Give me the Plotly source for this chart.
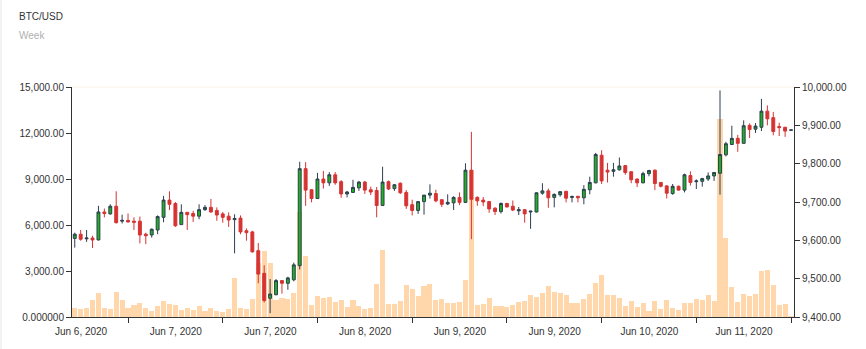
import pandas as pd
import plotly.graph_objects as go

# Hourly BTC/USD candles
times = pd.date_range("2020-06-06 03:00", periods=122, freq="h")

open_ = [
    9605, 9616, 9604, 9606, 9601, 9674, 9669, 9689, 9650, 9652,
    9650, 9650, 9616, 9614, 9627, 9660, 9705, 9696, 9641, 9673,
    9670, 9663, 9680, 9686, 9678, 9669, 9663, 9654, 9658, 9625,
    9622, 9573, 9514, 9449, 9458, 9495, 9488, 9497, 9534, 9787,
    9732, 9709, 9760, 9750, 9771, 9753, 9721, 9725, 9737, 9752,
    9732, 9730, 9691, 9753, 9735, 9749, 9725, 9693, 9678, 9701,
    9718, 9722, 9706, 9695, 9698, 9712, 9699, 9783, 9712, 9705,
    9701, 9684, 9675, 9696, 9689, 9677, 9680, 9674, 9674, 9723,
    9729, 9712, 9719, 9728, 9712, 9715, 9711, 9732, 9750, 9822,
    9783, 9780, 9784, 9795, 9779, 9760, 9750, 9774, 9783, 9751,
    9742, 9722, 9741, 9731, 9769, 9753, 9754, 9760, 9768, 9775,
    9823, 9850, 9866, 9853, 9900, 9890, 9895, 9937, 9920, 9897,
    9895, 9887,
]
high = [
    9620, 9627, 9627, 9612, 9690, 9683, 9694, 9728, 9667, 9670,
    9660, 9662, 9620, 9631, 9665, 9716, 9728, 9700, 9694, 9674,
    9677, 9694, 9692, 9708, 9686, 9674, 9673, 9668, 9665, 9631,
    9625, 9593, 9535, 9499, 9499, 9496, 9505, 9542, 9805, 9804,
    9733, 9776, 9781, 9778, 9778, 9757, 9729, 9758, 9755, 9755,
    9740, 9739, 9792, 9756, 9747, 9751, 9731, 9706, 9701, 9718,
    9746, 9732, 9707, 9720, 9715, 9725, 9801, 9883, 9715, 9713,
    9703, 9686, 9699, 9698, 9704, 9687, 9681, 9677, 9725, 9749,
    9735, 9722, 9728, 9728.5, 9717, 9715.5, 9744, 9766, 9828, 9835,
    9802, 9802, 9816, 9795.5, 9779.5, 9761, 9779, 9784, 9785, 9751.5,
    9744, 9747, 9743, 9774, 9780, 9759, 9763, 9777, 9777, 9991,
    9857, 9899, 9875, 9913, 9905, 9906, 9969, 9952, 9935, 9907,
    9896, 9888,
]
low = [
    9581, 9599, 9596, 9580, 9600, 9660, 9667, 9644, 9644, 9646,
    9627, 9592, 9590, 9607, 9616, 9647, 9679, 9635, 9641, 9627,
    9648, 9655, 9677, 9672, 9651, 9646, 9635, 9566, 9616, 9599,
    9568, 9488, 9438, 9410, 9457, 9461, 9471, 9493, 9524, 9690,
    9699, 9708, 9735, 9742, 9745, 9711, 9712, 9724, 9729, 9721,
    9718, 9660, 9690, 9731, 9729, 9721, 9682, 9665, 9669, 9667,
    9709, 9699, 9687, 9692, 9679, 9692, 9698, 9603, 9690, 9689,
    9672, 9666, 9670, 9686, 9676, 9666, 9646, 9630, 9673, 9719,
    9685, 9686, 9714, 9699, 9699, 9699, 9694, 9720, 9749, 9747,
    9751, 9766, 9782, 9771, 9749, 9739, 9749, 9767, 9731, 9738,
    9709, 9719, 9730, 9725, 9743, 9734, 9740, 9755, 9755, 9719,
    9819, 9850, 9831, 9853, 9867, 9880, 9885, 9900, 9874, 9872,
    9870, 9887,
]
close = [
    9616, 9603, 9606, 9601, 9674, 9670, 9689, 9646, 9652, 9648,
    9647, 9614, 9612, 9629, 9662, 9705, 9694, 9638, 9673, 9667,
    9663, 9680, 9686, 9674, 9666, 9660, 9653, 9657, 9622, 9620,
    9570, 9512, 9443, 9460, 9495, 9488, 9502, 9536, 9787, 9731,
    9709, 9760, 9750, 9771, 9750, 9721, 9726, 9738, 9752, 9731,
    9726, 9691, 9752, 9734, 9745, 9724, 9690, 9678, 9701, 9718,
    9723, 9703, 9694, 9699, 9712, 9699, 9783, 9707, 9703, 9700,
    9682, 9675, 9696, 9687, 9679, 9680, 9669, 9676, 9724, 9729,
    9711, 9720, 9727, 9710, 9714, 9711, 9733, 9751, 9824, 9755,
    9778, 9784, 9794, 9777, 9758, 9750, 9774, 9782, 9748, 9741,
    9723, 9741, 9731, 9771, 9751, 9755, 9761, 9768, 9777, 9824,
    9852, 9866, 9853, 9899, 9889, 9898, 9937, 9917, 9884, 9894,
    9885, 9888,
]
volume = [
    565, 522, 609, 1087, 1565, 609, 522, 1652, 1130, 609,
    761, 935, 565, 413, 696, 1065, 826, 761, 478, 587,
    478, 696, 413, 609, 413, 348, 543, 2522, 609, 543,
    1196, 3544, 4326, 3544, 1130, 1261, 1196, 1587, 6850, 4000,
    783, 1391, 1217, 1304, 1000, 1130, 674, 1130, 739, 543,
    565, 2174, 4391, 870, 870, 1065, 2065, 1848, 1370, 2000,
    2174, 1130, 1196, 891, 891, 1000, 2435, 9570, 804, 870,
    1261, 739, 739, 674, 804, 978, 1065, 1456, 1326, 1587,
    2044, 1652, 1544, 1435, 913, 913, 1174, 1522, 2239, 2739,
    1410, 1456, 1261, 739, 1065, 630, 913, 413, 1043, 543,
    1109, 565, 456, 913, 913, 1152, 1109, 1435, 1043, 12935,
    5174, 1978, 1000, 1522, 1348, 1522, 3000, 3087, 2065, 804,
    870, 60,
]

# Axis ticks: every 16 hours, labelled with the date
tick_idx = [9, 25, 41, 57, 73, 89, 105, 121]
tick_labels = ["Jun 6, 2020", "Jun 7, 2020", "Jun 7, 2020", "Jun 8, 2020",
               "Jun 9, 2020", "Jun 9, 2020", "Jun 10, 2020", "Jun 11, 2020"]
vol_ticks = [0, 3000, 6000, 9000, 12000, 15000]
vol_tick_labels = ["0.000000", "3,000.00", "6,000.00", "9,000.00",
                   "12,000.00", "15,000.00"]

HOUR_MS = 3600 * 1000
FONT = "Liberation Sans, Arial, sans-serif"
AXIS_COLOR = "#333333"

fig = go.Figure()

fig.add_trace(go.Bar(
    x=times, y=volume, yaxis="y",
    width=0.86 * HOUR_MS,
    marker=dict(color="rgba(255, 205, 150, 0.8)", line=dict(width=0)),
    name="Volume", hoverinfo="skip",
))

fig.add_trace(go.Candlestick(
    x=times, open=open_, high=high, low=low, close=close, yaxis="y2",
    increasing=dict(line=dict(color="#2c3e50", width=1), fillcolor="#1fb21f"),
    decreasing=dict(line=dict(color="#d63333", width=1), fillcolor="#d63333"),
    whiskerwidth=0, name="BTC/USD",
))

x_start = times[0] - pd.Timedelta(minutes=28)
x_end = times[-1] + pd.Timedelta(minutes=30)

fig.update_layout(
    width=866, height=349,
    margin=dict(l=72, r=72, t=87, b=32, pad=0),
    paper_bgcolor="white", plot_bgcolor="white",
    showlegend=False,
    font=dict(family=FONT, size=10, color=AXIS_COLOR),
    bargap=0,
    xaxis=dict(
        range=[x_start, x_end],
        rangeslider=dict(visible=False),
        tickmode="array",
        tickvals=[times[i] for i in tick_idx],
        ticktext=tick_labels,
        ticklabelshift=-47,
        ticks="outside", ticklen=5, tickcolor=AXIS_COLOR,
        showline=True, linecolor=AXIS_COLOR, linewidth=1,
        showgrid=False, zeroline=False,
        tickfont=dict(size=10, color=AXIS_COLOR),
    ),
    yaxis=dict(
        range=[0, 15000],
        tickmode="array", tickvals=vol_ticks, ticktext=vol_tick_labels,
        ticks="outside", ticklen=5, tickcolor=AXIS_COLOR,
        showline=True, linecolor=AXIS_COLOR, linewidth=1,
        showgrid=False, zeroline=False,
        tickfont=dict(size=10, color=AXIS_COLOR),
    ),
    yaxis2=dict(
        range=[9400, 10000], overlaying="y", side="right",
        tickmode="linear", tick0=9400, dtick=100, tickformat=",.2f",
        ticks="outside", ticklen=5, tickcolor=AXIS_COLOR,
        showline=True, linecolor=AXIS_COLOR, linewidth=1,
        showgrid=False, zeroline=False,
        tickfont=dict(size=10, color=AXIS_COLOR),
    ),
    annotations=[
        dict(text="BTC/USD", xref="paper", yref="paper",
             x=(17 - 72) / 722, y=(317 - 16) / 230,
             xanchor="left", yanchor="middle", showarrow=False,
             font=dict(size=10, color="#333333")),
        dict(text="Week", xref="paper", yref="paper",
             x=(17 - 72) / 722, y=(317 - 36) / 230,
             xanchor="left", yanchor="middle", showarrow=False,
             font=dict(size=10, color="#b0b0b0")),
    ],
    shapes=[
        dict(type="line", xref="paper", yref="paper", x0=0, x1=1, y0=1, y1=1,
             line=dict(color="#fdf1e8", width=1), layer="below"),
        dict(type="rect", xref="paper", yref="paper",
             x0=(0 - 72) / 722, x1=(2 - 72) / 722,
             y0=(317 - 349) / 230, y1=317 / 230,
             line=dict(width=0), fillcolor="#f2f2f2"),
    ],
)

fig.write_html("out.html")
